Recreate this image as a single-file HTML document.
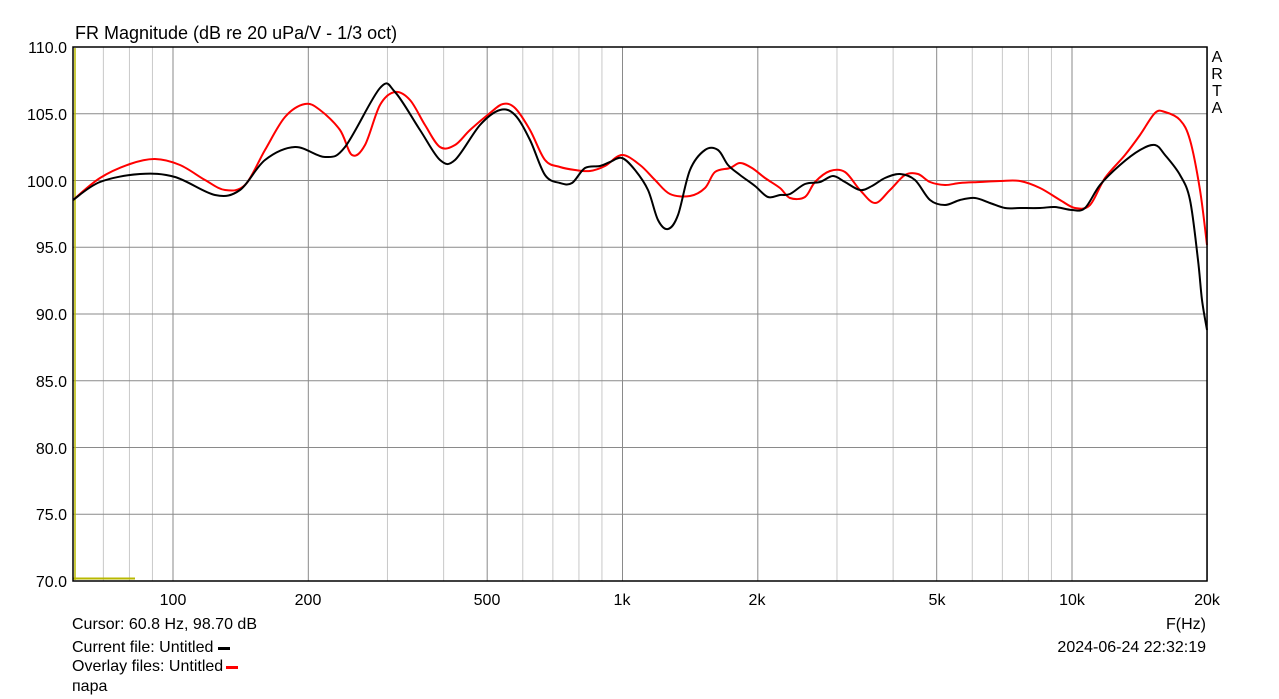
<!DOCTYPE html><html><head><style>body{margin:0;background:#fff}svg{display:block;font-family:"Liberation Sans",sans-serif}</style></head><body>
<svg width="1279" height="699" xmlns="http://www.w3.org/2000/svg">
<rect width="1279" height="699" fill="#fff"/>
<g id="g"></g>
<text x="75" y="39" font-size="18" fill="#000">FR Magnitude (dB re 20 uPa/V - 1/3 oct)</text>
<g font-size="16" text-anchor="end" fill="#000">
<text x="67" y="53">110.0</text><text x="67" y="120">105.0</text><text x="67" y="187">100.0</text><text x="67" y="253">95.0</text><text x="67" y="320">90.0</text><text x="67" y="387">85.0</text><text x="67" y="454">80.0</text><text x="67" y="520">75.0</text><text x="67" y="587">70.0</text></g>
<g font-size="16" text-anchor="middle" fill="#000">
<text x="173" y="605">100</text><text x="308" y="605">200</text><text x="487" y="605">500</text><text x="622" y="605">1k</text><text x="757" y="605">2k</text><text x="937" y="605">5k</text><text x="1072" y="605">10k</text><text x="1207" y="605">20k</text></g>
<g font-size="16" text-anchor="middle" fill="#000"><text x="1217" y="62">A</text><text x="1217" y="79">R</text><text x="1217" y="96">T</text><text x="1217" y="113">A</text></g>
<g font-size="16" fill="#000">
<text x="72" y="629">Cursor: 60.8 Hz, 98.70 dB</text>
<text x="72" y="652">Current file: Untitled</text>
<text x="72" y="671">Overlay files: Untitled</text>
<text x="72" y="691">пара</text>
<text x="1206" y="629" text-anchor="end">F(Hz)</text>
<text x="1206" y="652" text-anchor="end">2024-06-24  22:32:19</text></g>
<rect x="218" y="647" width="12" height="3" fill="#000"/>
<rect x="226" y="666" width="12" height="3" fill="#f00"/>
<line x1="75" y1="48" x2="75" y2="580" stroke="#b8b800" stroke-width="1.5"/>
<line x1="73" y1="578.5" x2="135" y2="578.5" stroke="#b8b800" stroke-width="2"/>
<path id="r" fill="none" stroke="#f00" stroke-width="2" stroke-linejoin="round"/>
<path id="b" fill="none" stroke="#000" stroke-width="2" stroke-linejoin="round"/>
<rect x="73" y="47" width="1134" height="534" fill="none" stroke="#000" stroke-width="1.5"/>
</svg>
<script>
var g=document.getElementById('g'),s='';
function X(f){return 173+449.5*Math.log10(f/100);}
var maj=[100,200,500,1000,2000,5000,10000,20000];
for(var d=10;d<=10000;d*=10)for(var k=1;k<=9;k++){var f=d*k;if(f<60||f>20000)continue;var x=X(f);if(x<74)continue;
var c=maj.indexOf(f)>=0?'#8a8a8a':'#c8c8c8';s+='<line x1="'+x+'" y1="47" x2="'+x+'" y2="581" stroke="'+c+'" stroke-width="1"/>';}
for(var i=1;i<8;i++){var y=47+i*66.75;s+='<line x1="73" y1="'+y+'" x2="1207" y2="'+y+'" stroke="#8a8a8a" stroke-width="1"/>';}
g.innerHTML=s;
function cr(t){var a=t.trim().split(/\s+/).map(function(q){return q.split(',').map(Number)});
var d='M'+a[0][0]+','+a[0][1];for(var i=0;i<a.length-1;i++){var p0=a[i-1]||a[i],p1=a[i],p2=a[i+1],p3=a[i+2]||a[i+1];
d+=' C'+(p1[0]+(p2[0]-p0[0])/6)+','+(p1[1]+(p2[1]-p0[1])/6)+' '+(p2[0]-(p3[0]-p1[0])/6)+','+(p2[1]-(p3[1]-p1[1])/6)+' '+p2[0]+','+p2[1];}return d;}
document.getElementById('r').setAttribute('d',cr("73,200 100,178 130,164 155,159 180,165 205,180 225,190 245,185 265,150 285,117 305,104 320,110 340,130 352,155 365,145 380,105 395,92 410,100 425,125 440,147 455,145 470,130 490,113 503,104 515,108 530,130 545,160 560,167 575,170 590,171 605,166 622,155 640,165 655,180 670,194 690,196 705,188 715,172 730,168 740,163 752,168 765,178 780,188 790,198 805,197 815,182 830,171 845,172 860,190 875,203 890,190 905,175 918,174 930,182 945,185 960,183 980,182 1000,181 1020,181 1040,188 1060,200 1075,208 1090,205 1105,178 1125,155 1140,135 1155,113 1165,112 1180,120 1190,140 1200,190 1207,245"));
document.getElementById('b').setAttribute('d',cr("73,200 100,182 140,174 175,177 215,195 240,190 265,160 295,147 325,157 345,147 380,88 395,92 420,130 440,160 455,160 480,125 500,110 515,115 530,140 545,175 560,183 572,183 585,168 600,166 610,162 622,158 635,170 648,190 658,220 668,229 678,215 690,170 705,150 718,150 728,165 740,175 755,186 768,197 780,195 790,194 805,184 820,182 833,176 845,182 860,190 872,186 885,178 900,174 915,180 930,200 945,205 960,200 975,198 990,203 1005,208 1020,208 1040,208 1055,207 1072,210 1085,208 1100,185 1120,165 1140,150 1155,145 1165,155 1180,175 1190,200 1198,260 1202,300 1207,330"));
</script>
</body></html>
